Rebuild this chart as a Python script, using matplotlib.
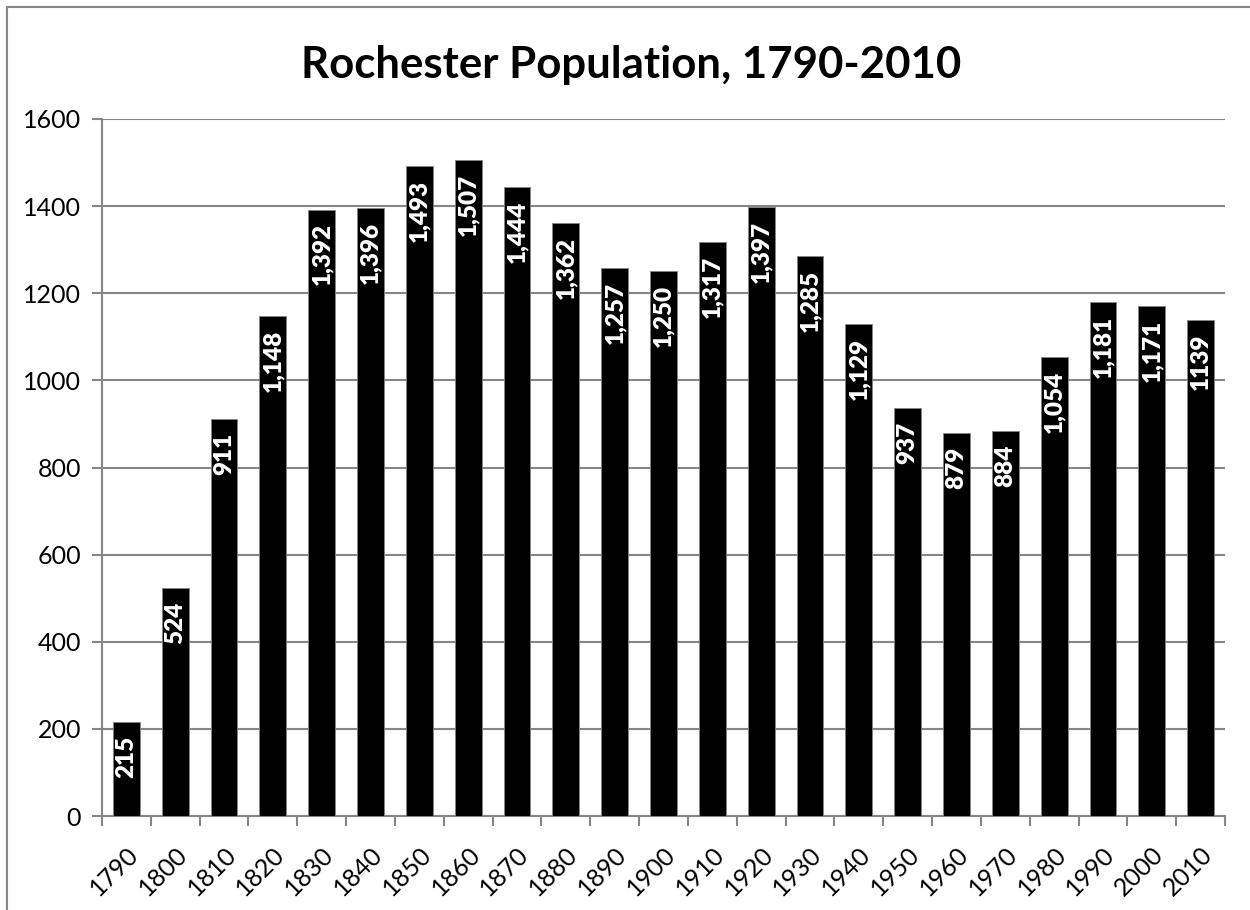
import matplotlib.pyplot as plt
from matplotlib.patches import Rectangle

years = [1790, 1800, 1810, 1820, 1830, 1840, 1850, 1860, 1870, 1880, 1890, 1900,
         1910, 1920, 1930, 1940, 1950, 1960, 1970, 1980, 1990, 2000, 2010]
population = [215, 524, 911, 1148, 1392, 1396, 1493, 1507, 1444, 1362, 1257, 1250,
              1317, 1397, 1285, 1129, 937, 879, 884, 1054, 1181, 1171, 1139]
# the last label in the original has no thousands separator
labels = ["{:,}".format(v) for v in population[:-1]] + [str(population[-1])]

GREY = "#868686"

plt.rcParams["font.family"] = ["Lato", "DejaVu Sans"]

fig = plt.figure(figsize=(12.5, 9.1), dpi=100, facecolor="white")
# chart-area border: only the top and left edges fall inside the image
fig.patches.append(Rectangle((7 / 1250, -0.1), 1.2, 1.1 - 7 / 910,
                             transform=fig.transFigure, fill=False,
                             edgecolor=GREY, linewidth=1.5))
ax = fig.add_axes([102 / 1250, 1 - 816 / 910, (1225 - 102) / 1250, (816 - 119) / 910])

x = list(range(len(years)))
ax.bar(x, population, width=0.55, color="black", edgecolor=GREY,
       linewidth=0.6, zorder=3)

for xi, v, lab in zip(x, population, labels):
    ax.annotate(lab, (xi, v), xytext=(0, -10), textcoords="offset points",
                rotation=90, ha="center", va="top", color="white",
                fontsize=17.5, fontweight="heavy", zorder=4)

ax.set_xlim(-0.5, len(years) - 0.5)
ax.set_ylim(0, 1600)
ax.set_yticks(range(0, 1601, 200))
ax.yaxis.grid(True, color=GREY, linewidth=1.5, zorder=0)

ax.set_xticks([i - 0.5 for i in range(len(years) + 1)])
ax.set_xticklabels([])
ax.set_xticks(x, minor=True)
ax.set_xticklabels([str(y) for y in years], minor=True, rotation=45,
                   ha="right", va="top", rotation_mode="anchor", fontsize=18)
ax.tick_params(axis="x", which="major", length=7, width=1.5, color=GREY)
ax.tick_params(axis="x", which="minor", length=0, pad=19)
ax.tick_params(axis="y", length=7, width=1.5, color=GREY, labelsize=18, pad=8)

for side in ("top", "right"):
    ax.spines[side].set_visible(False)
for side in ("left", "bottom"):
    ax.spines[side].set_color(GREY)
    ax.spines[side].set_linewidth(1.5)

fig.text(0.505, 1 - 65 / 910, "Rochester Population, 1790-2010", ha="center",
         va="center", fontsize=31.5, fontweight="bold")

fig.savefig("out.png", facecolor=fig.get_facecolor())
